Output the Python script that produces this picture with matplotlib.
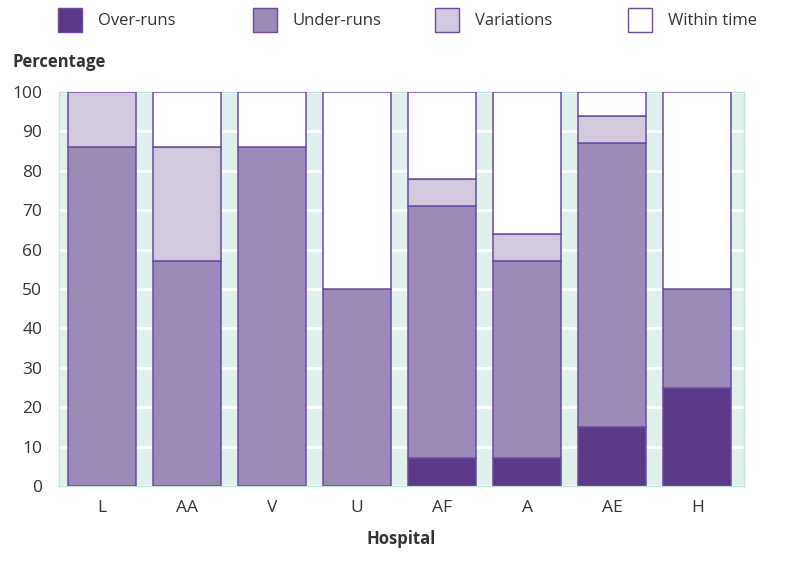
import numpy as np
import matplotlib
matplotlib.use("Agg")
import matplotlib.pyplot as plt
from matplotlib.patches import Rectangle

plt.rcParams['font.family'] = ['Open Sans', 'DejaVu Sans']

hospitals = ['L', 'AA', 'V', 'U', 'AF', 'A', 'AE', 'H']
over_runs = [0, 0, 0, 0, 7, 7, 15, 25]
under_runs = [86, 57, 86, 50, 64, 50, 72, 25]
variations = [14, 29, 0, 0, 7, 7, 7, 0]
within_time = [0, 14, 14, 50, 22, 36, 6, 50]

series_names = ['Over-runs', 'Under-runs', 'Variations', 'Within time']
colours = ['#5c3889', '#9c8ab8', '#d3c9df', '#ffffff']
edge = '#6b4a9e'
text_col = '#333333'

W, H = 807, 569
fig = plt.figure(figsize=(W / 100, H / 100), dpi=100)
ax = fig.add_axes([59 / W, (H - 486) / H, (744 - 59) / W, (486 - 92) / H])
ax.set_facecolor('#e0f0ec')

x = np.arange(len(hospitals))
bottom = np.zeros(len(hospitals))
for vals, col in zip([over_runs, under_runs, variations, within_time], colours):
    vals = np.array(vals, dtype=float)
    mask = vals > 0
    ax.bar(x[mask], vals[mask], bottom=bottom[mask], width=0.8, color=col,
           edgecolor=edge, linewidth=1.1, zorder=3)
    bottom += vals

ax.set_xlim(-0.5, 7.55)
ax.set_ylim(0, 100)
ax.set_yticks(range(0, 101, 10))
ax.yaxis.grid(True, color='white', linewidth=2, zorder=1)
ax.set_axisbelow(True)
ax.set_xticks(x)
ax.set_xticklabels(hospitals)
ax.tick_params(length=0, labelsize=12.5, labelcolor=text_col)
ax.tick_params(axis='y', pad=12)
ax.tick_params(axis='x', pad=10)
for s in ax.spines.values():
    s.set_color('#c3e2da')
    s.set_linewidth(1)

ax.set_xlabel('Hospital', fontsize=12, fontweight='bold', color=text_col, labelpad=10)
fig.text(12 / W, 1 - 62 / H, 'Percentage', fontsize=12, fontweight='bold',
         color=text_col, va='center', ha='left')

# legend row along the top
legend_x = [58, 253, 435, 628]
for lx, name, col in zip(legend_x, series_names, colours):
    fig.add_artist(Rectangle((lx / W, 1 - 32 / H), 24 / W, 24 / H,
                             transform=fig.transFigure, facecolor=col,
                             edgecolor=edge, linewidth=1.0))
    fig.text((lx + 40) / W, 1 - 21 / H, name, fontsize=12, color=text_col,
             va='center', ha='left')

fig.savefig('out.png', dpi=100)
